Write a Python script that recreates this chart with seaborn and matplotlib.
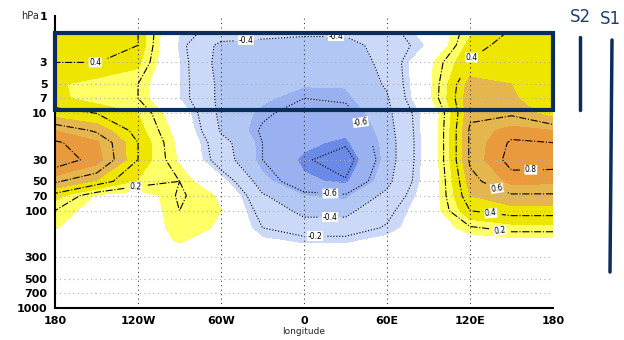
import numpy as np
import pandas as pd
import matplotlib
matplotlib.use("Agg")
import matplotlib.pyplot as plt
import seaborn as sns
from matplotlib.patches import Rectangle
from matplotlib.lines import Line2D
from matplotlib.ticker import NullLocator

# Grid: longitude columns, pressure rows (hPa)
lons = [-180, -150, -120, -90, -60, -30, 0, 30, 60, 90, 120, 150, 180]
plevs = [1.5, 2, 3, 5, 7, 10, 15, 20, 30, 50, 70, 100, 150, 200, 300, 1000]

# one row per pressure level, values at each longitude
corr = [
    [0.42, 0.42, 0.40, -0.12, -0.30, -0.35, -0.38, -0.38, -0.28, -0.05, 0.28, 0.42, 0.45],
    [0.42, 0.42, 0.40, -0.15, -0.45, -0.46, -0.46, -0.46, -0.33, -0.10, 0.35, 0.45, 0.45],
    [0.40, 0.40, 0.33, -0.12, -0.48, -0.50, -0.50, -0.50, -0.35, 0.08, 0.42, 0.45, 0.42],
    [0.32, 0.25, 0.20, -0.12, -0.45, -0.52, -0.54, -0.54, -0.38, 0.08, 0.55, 0.50, 0.40],
    [0.33, 0.25, 0.20, -0.12, -0.45, -0.53, -0.60, -0.58, -0.42, 0.08, 0.58, 0.52, 0.40],
    [0.45, 0.40, 0.30, 0.00, -0.45, -0.58, -0.65, -0.65, -0.45, -0.04, 0.58, 0.58, 0.45],
    [0.70, 0.58, 0.35, 0.05, -0.42, -0.62, -0.70, -0.72, -0.48, -0.04, 0.62, 0.75, 0.70],
    [0.82, 0.72, 0.40, 0.08, -0.33, -0.60, -0.72, -0.78, -0.50, -0.04, 0.62, 0.82, 0.80],
    [0.88, 0.75, 0.40, 0.10, -0.30, -0.60, -0.78, -0.88, -0.50, -0.04, 0.62, 0.85, 0.85],
    [0.62, 0.48, 0.28, 0.20, -0.05, -0.50, -0.72, -0.78, -0.45, -0.04, 0.55, 0.73, 0.72],
    [0.35, 0.10, 0.02, 0.22, 0.10, -0.38, -0.55, -0.58, -0.35, -0.02, 0.50, 0.58, 0.58],
    [0.20, 0.05, 0.00, 0.20, 0.12, -0.28, -0.45, -0.45, -0.25, 0.00, 0.40, 0.45, 0.45],
    [0.13, 0.00, 0.00, 0.18, 0.10, -0.20, -0.30, -0.30, -0.18, 0.00, 0.18, 0.25, 0.25],
    [0.05, 0.00, 0.00, 0.14, 0.02, -0.10, -0.15, -0.15, -0.08, 0.00, 0.05, 0.08, 0.08],
    [0.00] * 13,
    [0.00] * 13,
]

fill_levels = [-1.0, -0.75, -0.55, -0.4, -0.12, 0.12, 0.3, 0.5, 0.7, 1.0]
fill_colors = ["#6b89e6", "#99b1f1", "#b3c7f4", "#cbd8f8", "#ffffff",
               "#ffff66", "#eee600", "#e6b64e", "#e89a3c"]
line_levels = [-0.8, -0.6, -0.4, -0.2, 0.2, 0.4, 0.6, 0.8]

xticks = [-180, -120, -60, 0, 60, 120, 180]
xtick_labels = ["180", "120W", "60W", "0", "60E", "120E", "180"]
yticks = [1, 3, 5, 7, 10, 30, 50, 70, 100, 300, 500, 700, 1000]
ytick_labels = ["1", "3", "5", "7", "10", "30", "50", "70", "100", "300", "500", "700", "1000"]

sns.set_style("white")
plt.rcParams["font.family"] = ["DejaVu Sans"]

df = pd.DataFrame(corr, index=plevs, columns=lons)

fig = plt.figure(figsize=(6.24, 3.40), dpi=100)
ax = fig.add_axes([55 / 624, 1 - 308 / 340, 498 / 624, 292 / 340])

X, Y = np.meshgrid(df.columns.values, df.index.values)
ax.contourf(X, Y, df.values, levels=fill_levels, colors=fill_colors, zorder=1)
cs = ax.contour(X, Y, df.values, levels=line_levels, colors="black",
                linewidths=0.8, linestyles=[":"] * 4 + ["-."] * 4, zorder=3)

label_spots = [(-151, 2.1), (23, 2.1), (-42, 4.3), (121, 5.8), (41, 12.3),
               (164, 38), (139, 71), (135, 108), (142, 150), (-122, 53),
               (19, 71), (19, 114), (8, 166)]
labels = ax.clabel(cs, fmt="%.1f", fontsize=5.5, inline=True, manual=label_spots)
for t in labels:
    t.set_bbox(dict(facecolor="white", edgecolor="none", pad=0.3))

ax.set_yscale("log")
ax.set_xlim(-180, 180)
ax.set_ylim(1000, 1)
ax.yaxis.set_minor_locator(NullLocator())
ax.set_xticks(xticks)
ax.set_xticklabels(xtick_labels)
ax.set_yticks(yticks)
ax.set_yticklabels(ytick_labels)

for y in yticks[1:-1]:
    ax.axhline(y, color="#b0b0b0", lw=0.8, ls=(0, (1, 3)), zorder=2)
for x in xticks[1:-1]:
    ax.axvline(x, color="#404040", lw=0.8, ls=(0, (1, 3)), zorder=2)

ax.tick_params(axis="both", direction="out", length=3.5, width=1.2,
               labelsize=8, colors="black", pad=2)
for lab in ax.get_xticklabels() + ax.get_yticklabels():
    lab.set_fontweight("bold")
fig.text(304 / 624, 1 - 332 / 340, "longitude", fontsize=6.5, ha="center", va="center")

sns.despine(ax=ax, top=True, right=True)
for side in ["left", "bottom"]:
    ax.spines[side].set_linewidth(1.5)
    ax.spines[side].set_color("black")

navy = "#0b2d5b"
ax.add_patch(Rectangle((-180, 1.5), 360, 7.75, fill=False, edgecolor=navy,
                       linewidth=3, zorder=5, clip_on=False))
fig.text(30 / 624, 1 - 16 / 340, "hPa", fontsize=7, ha="center", va="center")

fig.text(580 / 624, 1 - 17 / 340, "S2", fontsize=12, color="#1f3f6f", ha="center", va="center")
fig.text(610 / 624, 1 - 19 / 340, "S1", fontsize=12, color="#1f3f6f", ha="center", va="center")
fig.add_artist(Line2D([580 / 624, 580 / 624], [1 - 37 / 340, 1 - 110 / 340],
                      color=navy, lw=2.5, transform=fig.transFigure))
fig.add_artist(Line2D([612 / 624, 610 / 624], [1 - 40 / 340, 1 - 272 / 340],
                      color=navy, lw=2.5, transform=fig.transFigure))

fig.savefig("out.png", dpi=100)
